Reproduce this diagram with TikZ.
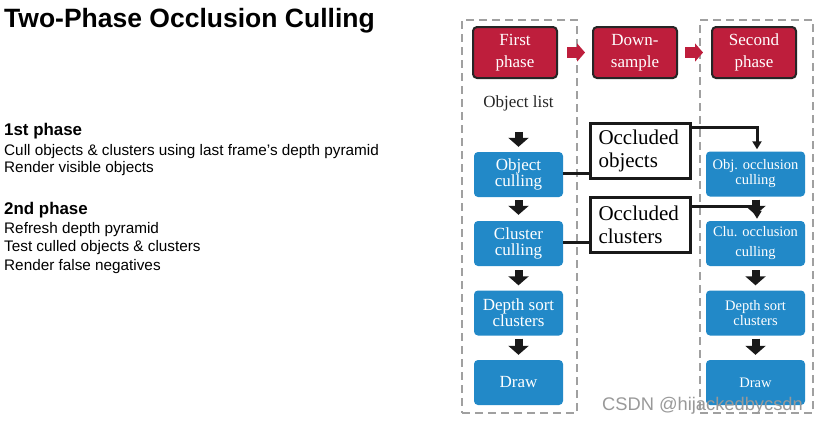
\documentclass[tikz,border=0pt]{standalone}
\usepackage{fontspec}
\setmainfont{Liberation Serif}
\newfontfamily\arialf{Liberation Sans}
\usetikzlibrary{arrows.meta,calc}
\definecolor{crim}{RGB}{190,30,60}
\definecolor{bl}{RGB}{34,137,200}
\definecolor{dgray}{RGB}{160,160,160}
\begin{document}
\begin{tikzpicture}[x=1pt,y=-1pt,
  redbox/.style={draw=black!85, line width=2pt, fill=crim, rounded corners=4pt,
    minimum width=84pt, minimum height=51pt, inner sep=0pt, text=white,
    font=\fontsize{17pt}{22pt}\selectfont, align=center},
  bluebox/.style={fill=bl, rounded corners=4pt, inner sep=0pt, text=white, align=center,
    minimum width=89pt, minimum height=45pt, font=\fontsize{17pt}{16pt}\selectfont},
  bluebox2/.style={bluebox, minimum width=99pt, font=\fontsize{14.5pt}{15pt}\selectfont},
  occbox/.style={draw=black!90, line width=3pt, fill=white, minimum width=100pt,
    minimum height=55pt, inner sep=0pt, text width=84pt, align=left,
    font=\fontsize{21pt}{23pt}\selectfont},
  dashbox/.style={draw=dgray, line width=2pt, dash pattern=on 8pt off 5pt, inner sep=0pt},
  blk/.style={draw=black!90, line width=8pt, -{Triangle[width=20pt,length=9pt]}},
  redarr/.style={draw=crim, line width=11pt, -{Triangle[width=18pt,length=8pt]}},
  conn/.style={draw=black!90, line width=3pt},
  tarr/.style={draw=black!90, line width=3pt, -{Triangle[width=9pt,length=8pt]}},
  lefttxt/.style={anchor=base west, inner sep=0pt, font=\arialf\fontsize{15.3pt}{18pt}\selectfont},
  lefthead/.style={anchor=base west, inner sep=0pt, font=\arialf\bfseries\fontsize{16.9pt}{18pt}\selectfont}
]
\useasboundingbox[fill=white] (0,0) rectangle (820,424);

% left text
\node[anchor=base west, inner sep=0pt, font=\arialf\bfseries\fontsize{26.5pt}{30pt}\selectfont] (title) at (4,27) {Two-Phase Occlusion Culling};
\node[lefthead] (h1) at (4,135.7) {1st phase};
\node[lefttxt] (l1) at (4,155) {Cull objects \& clusters using last frame’s depth pyramid};
\node[lefttxt] (l2) at (4,172.5) {Render visible objects};
\node[lefthead] (h2) at (4,214) {2nd phase};
\node[lefttxt] (l3) at (4,233.3) {Refresh depth pyramid};
\node[lefttxt] (l4) at (4,251.7) {Test culled objects \& clusters};
\node[lefttxt] (l5) at (4,270) {Render false negatives};

% dashed frames
\node[dashbox, minimum width=115pt, minimum height=393pt] (lframe) at (519.5,216.5) {};
\node[dashbox, minimum width=113pt, minimum height=393pt] (rframe) at (756.5,216.5) {};

% top red boxes
\node[redbox] (fp) at (515,52.5) {First\\phase};
\node[redbox] (ds) at (635,52.5) {Down-\\sample};
\node[redbox] (sp) at (754,52.5) {Second\\phase};
\draw[redarr, shorten <=9pt, shorten >=7pt] (fp.east) -- (ds.west);
\draw[redarr, shorten <=7pt, shorten >=8pt] (ds.east) -- (sp.west);

% left column
\node[text=black!85, font=\fontsize{17pt}{20pt}\selectfont, inner sep=0pt] (ol) at (518.5,103) {Object list};
\node[bluebox] (oc) at (518.5,174.5) {Object\\culling};
\node[bluebox] (cc) at (518.5,243.5) {Cluster\\culling};
\node[bluebox] (dsc) at (518.5,313) {Depth sort\\clusters};
\node[bluebox] (dr) at (518.5,382.5) {Draw};
\draw[blk, shorten <=21pt, shorten >=5pt] (ol.south) -- (oc.north);
\draw[blk, shorten <=3pt, shorten >=6pt] (oc.south) -- (cc.north);
\draw[blk, shorten <=4pt, shorten >=5pt] (cc.south) -- (dsc.north);
\draw[blk, shorten <=3pt, shorten >=5pt] (dsc.south) -- (dr.north);

% right column
\node[bluebox2] (ooc) at (755.5,174) {Obj. occlusion\\culling};
\node[bluebox2, font=\fontsize{14.5pt}{20pt}\selectfont] (coc) at (755.5,243.5) {Clu. occlusion\\culling};
\node[bluebox2] (dsc2) at (755.5,313) {Depth sort\\clusters};
\node[bluebox2] (dr2) at (755.5,382.5) {Draw};
\draw[blk, shorten <=3pt, shorten >=6pt] (ooc.south) -- (coc.north);
\draw[blk, shorten <=4pt, shorten >=5pt] (coc.south) -- (dsc2.north);
\draw[blk, shorten <=3pt, shorten >=5pt] (dsc2.south) -- (dr2.north);

% occluded boxes
\node[occbox] (oo) at (640.5,151) {Occluded\\objects};
\node[occbox] (ocl) at (640.5,225) {Occluded\\clusters};
\draw[conn] (oc.east |- 0,173) -- (oo.west |- 0,173);
\draw[conn] (cc.east |- 0,242) -- (ocl.west |- 0,242);
\draw[tarr, shorten >=2pt] ($(oo.north east)+(0,5)$) -| ([xshift=1.5pt]ooc.north);
\draw[tarr, shorten >=2pt] ($(ocl.north east)+(0,10)$) -| ([xshift=1.5pt]coc.north);

% watermark
\node[anchor=base west, inner sep=0pt, text=black!40, font=\arialf\fontsize{18.3pt}{20pt}\selectfont] (wm) at (602,410) {CSDN @hijackedbycsdn};
\end{tikzpicture}
\end{document}
